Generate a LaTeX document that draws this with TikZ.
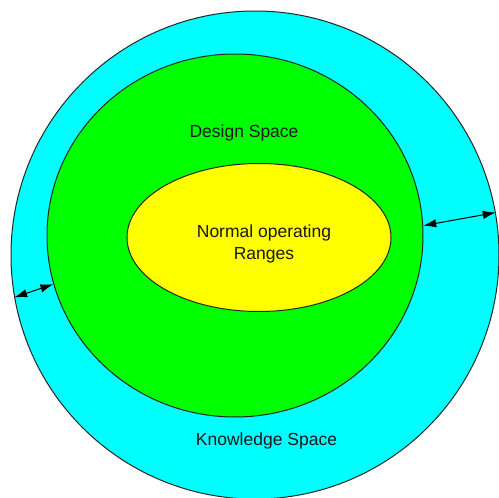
\documentclass[tikz,border=0pt]{standalone}
\usepackage{fontspec}
\setmainfont{Liberation Sans}
\usetikzlibrary{shapes.geometric,arrows.meta}
\definecolor{knowcyan}{RGB}{0,255,255}
\definecolor{desgreen}{RGB}{0,255,0}
\definecolor{normyellow}{RGB}{255,255,0}
\begin{document}
\begin{tikzpicture}[x=1pt,y=-1pt,line join=round,line cap=round,
		font=\fontsize{17.5}{21.5}\selectfont,
		>={Latex[length=13pt,width=8.5pt]},
		space/.style={draw=black!85,line width=1pt,inner sep=0pt},
		lbl/.style={inner sep=0pt,align=center,text=black!90}]
			\useasboundingbox (0,0) rectangle (499,498);
			% three nested regions
			\node[space,circle,fill=knowcyan,minimum size=488pt] (know) at (255,255) {};
			\node[space,ellipse,fill=desgreen,minimum width=376pt,minimum height=363pt] (design) at (235,235.5) {};
			\node[space,ellipse,fill=normyellow,minimum width=264pt,minimum height=148pt] (normal) at (259,237.5) {};
			% labels
			\node[lbl] (designlbl) at (244,133) {Design Space};
			\node[lbl] (normallbl) at (264,244) {Normal operating\\Ranges};
			\node[lbl] (knowlbl) at (266.5,441) {Knowledge Space};
			% margins between design and knowledge space
			\draw[<->,line width=1pt] (know.190) -- (design.195.8);
			\draw[<->,line width=1pt] (design.3) -- (know.10.5);
	\end{tikzpicture}
\end{document}
